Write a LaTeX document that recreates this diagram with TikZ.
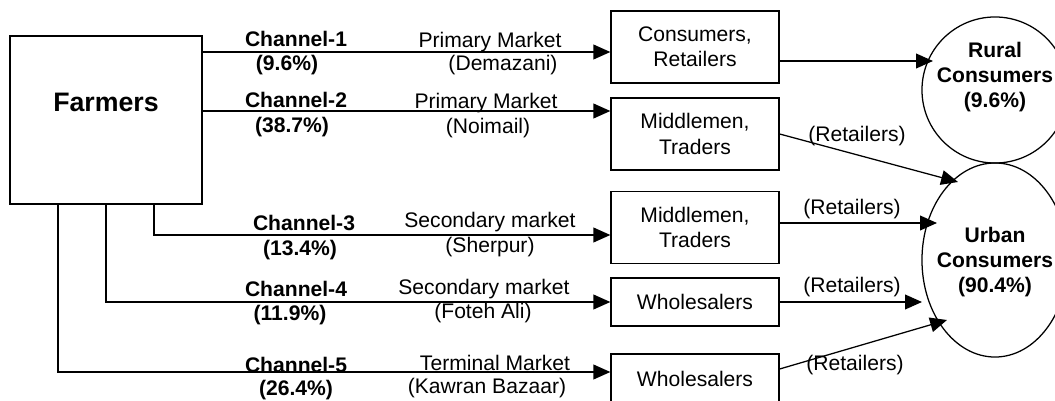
\documentclass[tikz,border=0pt]{standalone}
\usepackage{fontspec}
\setmainfont{Liberation Sans}
\usetikzlibrary{arrows.meta,shapes.geometric}

\tikzset{
  txt/.style={inner sep=0pt, font=\fontsize{15}{18}\selectfont},
  chan/.style={inner sep=0pt, font=\fontsize{15}{18}\selectfont\bfseries},
  unit/.style={draw=black, line width=0.9pt, rectangle, minimum width=4.2cm, inner sep=0pt, align=center, font=\fontsize{15}{18}\selectfont},
  consumer/.style={draw=black, line width=0.9pt, ellipse, inner sep=0pt},
  ctext/.style={inner sep=0pt, align=center, font=\fontsize{15}{17.5}\selectfont\bfseries},
  flow/.style={line width=0.9pt, -{Triangle[length=12pt,width=10.5pt]}},
}

\begin{document}
\begin{tikzpicture}[x=0.025cm, y=-0.025cm]
      \useasboundingbox (0,0) rectangle (1055,401);
      % farmers
      \node[draw=black, line width=0.9pt, rectangle, minimum width=4.8cm, minimum height=4.2cm] (farmers) at (106,120) {};
      \node[inner sep=0pt, font=\fontsize{19}{22}\selectfont\bfseries] (farmerstxt) at (106,102) {Farmers};
      %
      \node[unit, minimum height=1.8cm] (box1) at (695,47) {Consumers,\\Retailers};
      \node[unit, minimum height=1.8cm] (box2) at (695,134) {Middlemen,\\Traders};
      \node[unit, minimum height=1.8cm] (box3) at (695,227.5) {Middlemen,\\Traders};
      \node[unit, minimum height=1.2cm] (box4) at (695,302) {Wholesalers};
      \node[unit, minimum height=1.25cm] (box5) at (695,379) {Wholesalers};
      %
      \node[consumer, minimum width=3.65cm, minimum height=3.65cm] (rural) at (995,90) {};
      \node[ctext] (ruraltxt) at (995,77) {Rural\\Consumers\\(9.6\%)};
      \node[consumer, minimum width=3.65cm, minimum height=4.85cm] (urban) at (995,260) {};
      \node[ctext] (urbantxt) at (995,262) {Urban\\Consumers\\(90.4\%)};
      %
      \coordinate (y1) at (0,52);
      \coordinate (y2) at (0,111);
      \coordinate (y3) at (0,235);
      \coordinate (y4) at (0,302);
      \coordinate (y5) at (0,372);
      \draw[flow] (farmers.east |- y1) -- (box1.west |- y1);
      \draw[flow] (farmers.east |- y2) -- (box2.west |- y2);
      \draw[flow] ([xshift=1.2cm]farmers.south) |- (box3.west |- y3);
      \draw[flow] (farmers.south) |- (box4.west |- y4);
      \draw[flow] ([xshift=-1.2cm]farmers.south) |- (box5.west |- y5);
      %
      \node[chan] (chan1) at (296,39) {Channel-1};
      \node[chan] (pct1) at (287,65) {(9.6\%)};
      \node[chan] (chan2) at (296,100) {Channel-2};
      \node[chan] (pct2) at (292,127) {(38.7\%)};
      \node[chan] (chan3) at (304,223) {Channel-3};
      \node[chan] (pct3) at (300,250) {(13.4\%)};
      \node[chan] (chan4) at (296,289) {Channel-4};
      \node[chan] (pct4) at (290,315) {(11.9\%)};
      \node[chan] (chan5) at (296,365) {Channel-5};
      \node[chan] (pct5) at (296,390) {(26.4\%)};
      %
      \node[txt] (mk1) at (490,42) {Primary Market};
      \node[txt] (loc1) at (503,65) {(Demazani)};
      \node[txt] (mk2) at (486,103) {Primary Market};
      \node[txt] (loc2) at (488,128) {(Noimail)};
      \node[txt] (mk3) at (490,222) {Secondary market};
      \node[txt] (loc3) at (490,247) {(Sherpur)};
      \node[txt] (mk4) at (484,289) {Secondary market};
      \node[txt] (loc4) at (483,313) {(Foteh Ali)};
      \node[txt] (mk5) at (495,363) {Terminal Market};
      \node[txt] (loc5) at (487,388) {(Kawran Bazaar)};
      %
      \coordinate (t1) at (933,61);
      \coordinate (t2) at (958,182);
      \coordinate (t3) at (937,223);
      \coordinate (t4) at (922,302);
      \coordinate (t5) at (947,320);
      \coordinate (s5) at (0,369);
      \draw[flow] (box1.east |- t1) -- (t1);
      \draw[flow] (box2.east) -- (t2);
      \draw[flow] (box3.east |- t3) -- (t3);
      \draw[flow] (box4.east) -- (t4);
      \draw[flow] (box5.east |- s5) -- (t5);
      %
      \node[txt] (ret2) at (857,136) {(Retailers)};
      \node[txt] (ret3) at (852,209) {(Retailers)};
      \node[txt] (ret4) at (852,287) {(Retailers)};
      \node[txt] (ret5) at (855,365) {(Retailers)};
    \end{tikzpicture}
\end{document}
